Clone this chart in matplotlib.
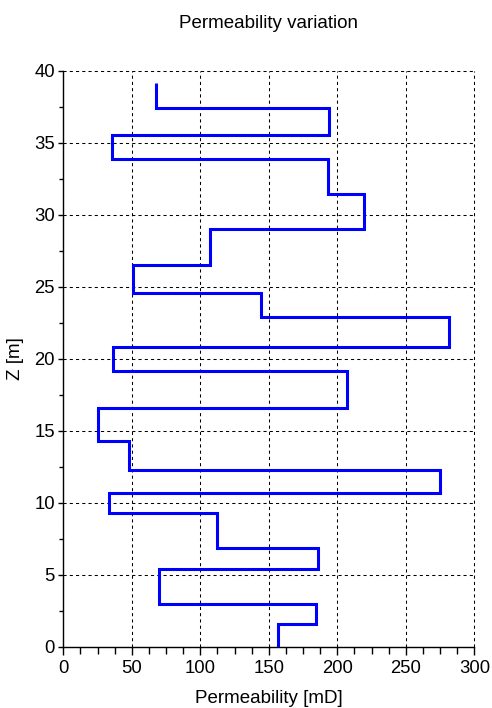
import numpy as np
import matplotlib
matplotlib.use("Agg")
import matplotlib.pyplot as plt
from matplotlib.ticker import MultipleLocator

plt.rcParams['font.family'] = ['Liberation Sans', 'DejaVu Sans']

# Limites de capas (profundidad Z en m), de abajo hacia arriba
z_limites = [0.0, 1.58, 2.94, 5.40, 6.83, 9.31, 10.65, 12.25, 14.28, 16.58,
             19.17, 20.83, 22.90, 24.58, 26.49, 29.03, 31.44, 33.87, 35.56,
             37.43, 39.17]

# Permeabilidad de cada capa (mD)
permeabilidad = [156.5, 184.5, 69.6, 186.1, 112.4, 33.1, 275.0, 48.0, 25.1,
                 207.1, 36.5, 281.8, 144.5, 50.9, 107.3, 219.3, 193.4, 35.8,
                 193.9, 67.4]

# Perfil escalonado
z_arr = np.array(z_limites)
k_arr = np.array(permeabilidad)
z_perfil = np.column_stack([z_arr[:-1], z_arr[1:]]).ravel()
k_perfil = np.repeat(k_arr, 2)

fig = plt.figure(figsize=(4.92, 7.08), dpi=100)
ax = fig.add_axes([63.3 / 492, 1 - 646.7 / 708, (474.3 - 63.3) / 492, (646.7 - 70.7) / 708])

ax.plot(k_perfil, z_perfil, color='#0000ff', linewidth=2.2,
        solid_joinstyle='miter', solid_capstyle='butt', zorder=3)

ax.set_xlim(0, 300)
ax.set_ylim(0, 40)
ax.xaxis.set_major_locator(MultipleLocator(50))
ax.xaxis.set_minor_locator(MultipleLocator(12.5))
ax.yaxis.set_major_locator(MultipleLocator(5))
ax.yaxis.set_minor_locator(MultipleLocator(2.5))

ax.spines['top'].set_visible(False)
ax.spines['right'].set_visible(False)
for s in ['left', 'bottom']:
    ax.spines[s].set_linewidth(1.0)

ax.tick_params(axis='x', which='major', direction='out', length=5.5, width=1.0,
               labelsize=13.3, pad=4)
ax.tick_params(axis='x', which='minor', direction='out', length=5.0, width=1.0)
ax.tick_params(axis='y', which='major', direction='out', length=3.5, width=1.0,
               labelsize=13.3, pad=2.5)
ax.tick_params(axis='y', which='minor', direction='out', length=3.0, width=1.0)

ax.grid(True, which='major', color='black', linestyle=(0, (3, 3)), linewidth=0.75)
for gl in ax.get_xgridlines() + ax.get_ygridlines():
    gl.set_clip_on(False)

ax.set_xlabel("Permeability [mD]", fontsize=13.5)
ax.set_ylabel("Z [m]", fontsize=13.5)
ax.xaxis.set_label_coords(0.5, -0.076)
ax.yaxis.set_label_coords(-0.096, 0.5)

fig.text(0.5 * (63.3 + 474.3) / 492, 1 - 28.3 / 708, "Permeability variation",
         ha='center', va='baseline', fontsize=13.5)

fig.savefig("out.png", dpi=100)
